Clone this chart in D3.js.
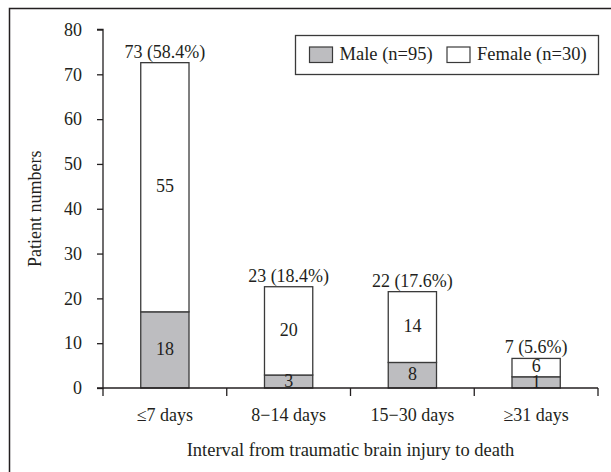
<!DOCTYPE html>
<html>
<head>
<meta charset="utf-8">
<script src="https://cdn.jsdelivr.net/npm/d3@7"></script>
<style>
  html, body { margin: 0; padding: 0; background: #fff; }
  svg { display: block; }
  text { font-family: "Liberation Serif", "DejaVu Serif", serif; fill: #231f20; }
</style>
</head>
<body>
<svg id="chart" width="611" height="472"></svg>
<script>
// ---- data ----
const categories = ["\u22647 days", "8\u221214 days", "15\u221230 days", "\u226531 days"];
// bar heights as drawn
const maleValues   = [17.0, 2.9, 5.7, 2.5];
const femaleValues = [55.6, 19.7, 15.8, 4.1];
// printed labels
const maleLabels   = ["18", "3", "8", "1"];
const femaleLabels = ["55", "20", "14", "6"];
const totalLabels  = ["73 (58.4%)", "23 (18.4%)", "22 (17.6%)", "7 (5.6%)"];
const yTicks = [0, 10, 20, 30, 40, 50, 60, 70, 80];
const seriesNames = ["Male (n=95)", "Female (n=30)"];
const seriesColors = ["#bdbdc0", "#ffffff"];

const svg = d3.select("#chart");

// outer frame
svg.append("path")
  .attr("d", "M9.5,480 L9.5,8.5 L620,8.5")
  .attr("fill", "none").attr("stroke", "#231f20").attr("stroke-width", 1.5);

const x0 = 103, x1 = 598, yTop = 29.5, yBottom = 388;

const x = d3.scaleBand().domain(categories).range([x0, x1])
  .paddingInner(0.61).paddingOuter(0.305);
const xTick = d3.scaleBand().domain(categories).range([x0, x1]).padding(0);
const y = d3.scaleLinear().domain([0, 80]).range([yBottom, yTop]);

// stacked data
const rows = categories.map((c, i) => ({ cat: c, male: maleValues[i], female: femaleValues[i] }));
const stack = d3.stack().keys(["male", "female"])(rows);

const g = svg.append("g");
stack.forEach((layer, li) => {
  g.selectAll(null).data(layer).enter().append("rect")
    .attr("x", d => x(d.data.cat))
    .attr("width", x.bandwidth())
    .attr("y", d => y(d[1]))
    .attr("height", d => y(d[0]) - y(d[1]))
    .attr("fill", seriesColors[li])
    .attr("stroke", "#3a3a3a")
    .attr("stroke-width", 1.3);
});

// segment labels
const fs = 18;
stack[0].forEach((d, i) => {
  g.append("text")
    .attr("x", x(d.data.cat) + x.bandwidth() / 2)
    .attr("y", (y(d[0]) + y(d[1])) / 2 + 1)
    .attr("text-anchor", "middle").attr("dominant-baseline", "middle")
    .attr("font-size", fs).text(maleLabels[i]);
});
stack[1].forEach((d, i) => {
  g.append("text")
    .attr("x", x(d.data.cat) + x.bandwidth() / 2)
    .attr("y", (y(d[0]) + y(d[1])) / 2 + (i === 3 ? 0 : 1))
    .attr("text-anchor", "middle").attr("dominant-baseline", "middle")
    .attr("font-size", fs).text(femaleLabels[i]);
  g.append("text")
    .attr("x", x(d.data.cat) + x.bandwidth() / 2)
    .attr("y", y(d[1]) - 5)
    .attr("text-anchor", "middle")
    .attr("font-size", fs).text(totalLabels[i]);
});

// y axis
const yAxis = d3.axisLeft(y).tickValues(yTicks).tickSize(6).tickPadding(15);
const ya = svg.append("g").attr("transform", `translate(${x0},0)`).call(yAxis);
ya.select(".domain").attr("stroke", "#231f20").attr("stroke-width", 1.3).attr("d", `M-6,${yTop}H0V${yBottom}H-6`);
ya.selectAll(".tick line").attr("stroke", "#231f20").attr("stroke-width", 1.3);
ya.selectAll(".tick text").attr("font-size", fs).attr("font-family", "Liberation Serif, serif").attr("fill", "#231f20");

// x axis
const xa = svg.append("g").attr("transform", `translate(0,${yBottom})`);
xa.append("line").attr("x1", x0).attr("x2", x1).attr("y1", 0).attr("y2", 0)
  .attr("stroke", "#231f20").attr("stroke-width", 1.3);
const tickPos = categories.map(c => xTick(c)).concat([x1]);
xa.selectAll(null).data(tickPos).enter().append("line")
  .attr("x1", d => d).attr("x2", d => d).attr("y1", 0).attr("y2", 8)
  .attr("stroke", "#231f20").attr("stroke-width", 1.3);
xa.selectAll(null).data(categories).enter().append("text")
  .attr("x", d => xTick(d) + xTick.bandwidth() / 2)
  .attr("y", 29).attr("text-anchor", "middle").attr("dominant-baseline", "middle")
  .attr("font-size", fs).text(d => d);

// axis titles
svg.append("text")
  .attr("transform", `translate(37,${(yTop + yBottom) / 2}) rotate(-90)`)
  .attr("text-anchor", "middle").attr("dominant-baseline", "middle")
  .attr("font-size", fs).text("Patient numbers");
svg.append("text")
  .attr("x", (x0 + x1) / 2).attr("y", 452)
  .attr("text-anchor", "middle").attr("dominant-baseline", "middle")
  .attr("font-size", 18.5).text("Interval from traumatic brain injury to death");

// legend
const lg = svg.append("g");
lg.append("rect").attr("x", 295.5).attr("y", 35.5).attr("width", 303).attr("height", 39)
  .attr("fill", "#fff").attr("stroke", "#3a3a3a").attr("stroke-width", 1.3);
const legendX = [309.5, 447];
seriesNames.forEach((n, i) => {
  lg.append("rect").attr("x", legendX[i]).attr("y", 47).attr("width", 23).attr("height", 15.5)
    .attr("fill", seriesColors[i]).attr("stroke", "#3a3a3a").attr("stroke-width", 1.2);
  lg.append("text").attr("x", legendX[i] + 30).attr("y", 55.5)
    .attr("dominant-baseline", "middle").attr("font-size", 18.5).text(n);
});
</script>
</body>
</html>
